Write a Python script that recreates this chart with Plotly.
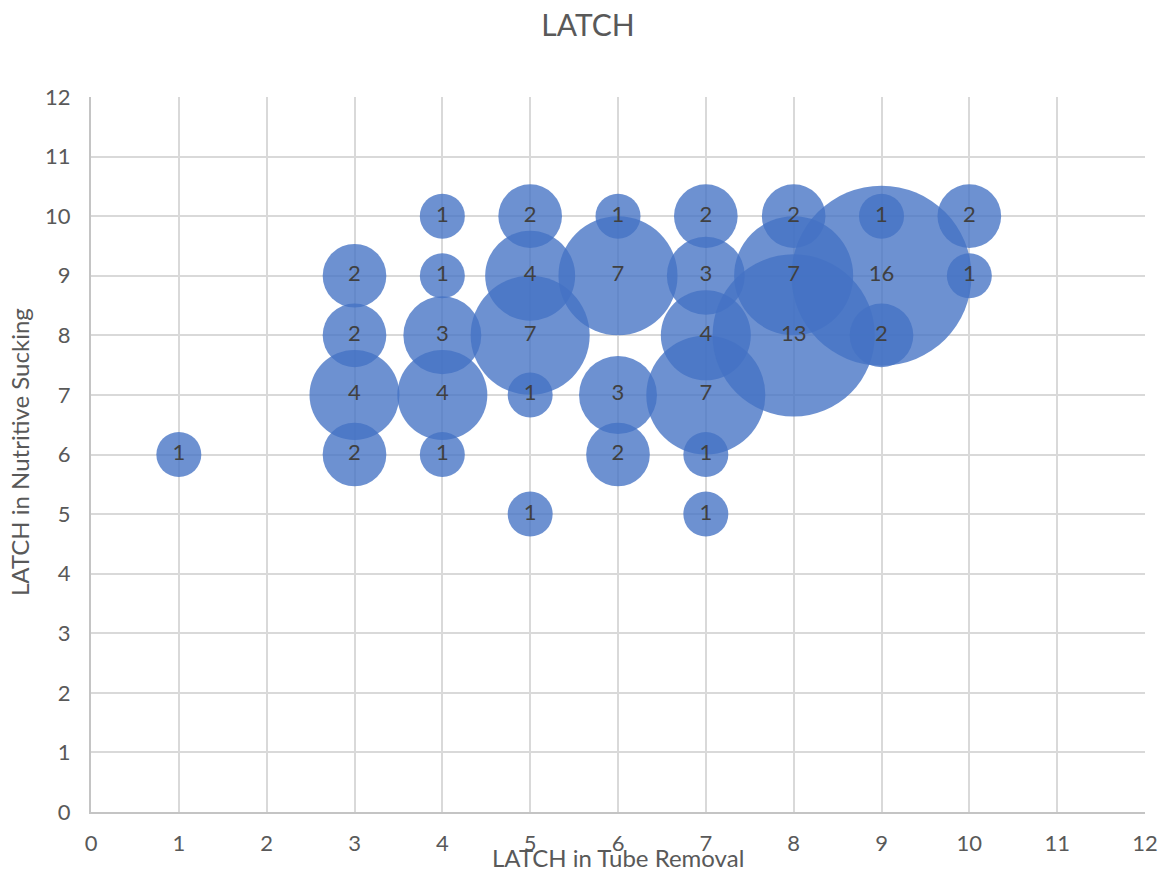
import plotly.graph_objects as go

# Data: LATCH in Tube Removal (x), LATCH in Nutritive Sucking (y), count (bubble size)
tube_removal = [1, 3, 3, 3, 3, 4, 4, 4, 4, 4, 5, 5, 5, 5, 5, 6, 6, 6, 6,
                7, 7, 7, 7, 7, 7, 8, 8, 8, 9, 9, 9, 10, 10]
nutritive_sucking = [6, 9, 8, 7, 6, 10, 9, 8, 7, 6, 10, 9, 8, 7, 5, 10, 9, 7, 6,
                     10, 9, 8, 7, 6, 5, 10, 9, 8, 10, 9, 8, 10, 9]
counts = [1, 2, 2, 4, 2, 1, 1, 3, 4, 1, 2, 4, 7, 1, 1, 1, 7, 3, 2,
          2, 3, 4, 7, 1, 1, 2, 7, 13, 1, 16, 2, 2, 1]
x_ticks = list(range(0, 13))
y_ticks = list(range(0, 13))

FONT = "Lato"
GRID = "#d9d9d9"
TXT = "#595959"

W, H = 1162, 872
L, R, T, B = 91, 17, 97, 60

fig = go.Figure()
fig.add_trace(go.Scatter(
    x=tube_removal,
    y=nutritive_sucking,
    mode="markers+text",
    text=[str(c) for c in counts],
    textposition="middle center",
    textfont=dict(family=FONT, size=22, color="#404040"),
    marker=dict(
        size=counts,
        sizemode="area",
        sizeref=1 / (2 * 22.5 ** 2),
        color="rgba(68,114,196,0.78)",
        opacity=1,
        line=dict(width=0),
    ),
    hoverinfo="x+y+text",
    showlegend=False,
))

fig.update_layout(
    width=W,
    height=H,
    paper_bgcolor="white",
    plot_bgcolor="white",
    margin=dict(l=L, r=R, t=T, b=B, autoexpand=False),
    title=dict(text="LATCH", x=588 / W, xanchor="center",
               y=1 - 25 / H, yanchor="middle",
               font=dict(family=FONT, size=30, color=TXT)),
    font=dict(family=FONT, color=TXT),
)
fig.update_xaxes(
    range=[0, 12],
    tickvals=x_ticks,
    ticktext=[str(v) for v in x_ticks],
    showgrid=True, gridcolor=GRID, gridwidth=2,
    showline=True, linecolor="#c4c4c4", linewidth=2,
    zeroline=False, automargin=False,
    ticks="", ticklabelstandoff=11,
    tickfont=dict(family=FONT, size=22, color=TXT),
)
fig.update_yaxes(
    range=[0, 12],
    tickvals=y_ticks,
    ticktext=[str(v) for v in y_ticks],
    showgrid=True, gridcolor=GRID, gridwidth=2,
    showline=True, linecolor="#c4c4c4", linewidth=2,
    zeroline=False, automargin=False,
    ticks="", ticklabelstandoff=14,
    tickfont=dict(family=FONT, size=22, color=TXT),
)

PW = W - L - R
PH = H - T - B
fig.add_annotation(text="LATCH in Tube Removal", xref="paper", yref="paper",
                   x=(618 - L) / PW, y=-(857 - (H - B)) / PH,
                   xanchor="center", yanchor="middle", showarrow=False,
                   font=dict(family=FONT, size=24, color=TXT))
fig.add_annotation(text="LATCH in Nutritive Sucking", xref="paper", yref="paper",
                   x=-(L - 20) / PW, y=((H - B) - 452) / PH,
                   xanchor="center", yanchor="middle", showarrow=False, textangle=-90,
                   font=dict(family=FONT, size=24, color=TXT))

fig.write_html(
    "out.html",
    config={"displayModeBar": False},
    post_script="document.body.style.margin='0';document.body.style.overflow='hidden';",
)
